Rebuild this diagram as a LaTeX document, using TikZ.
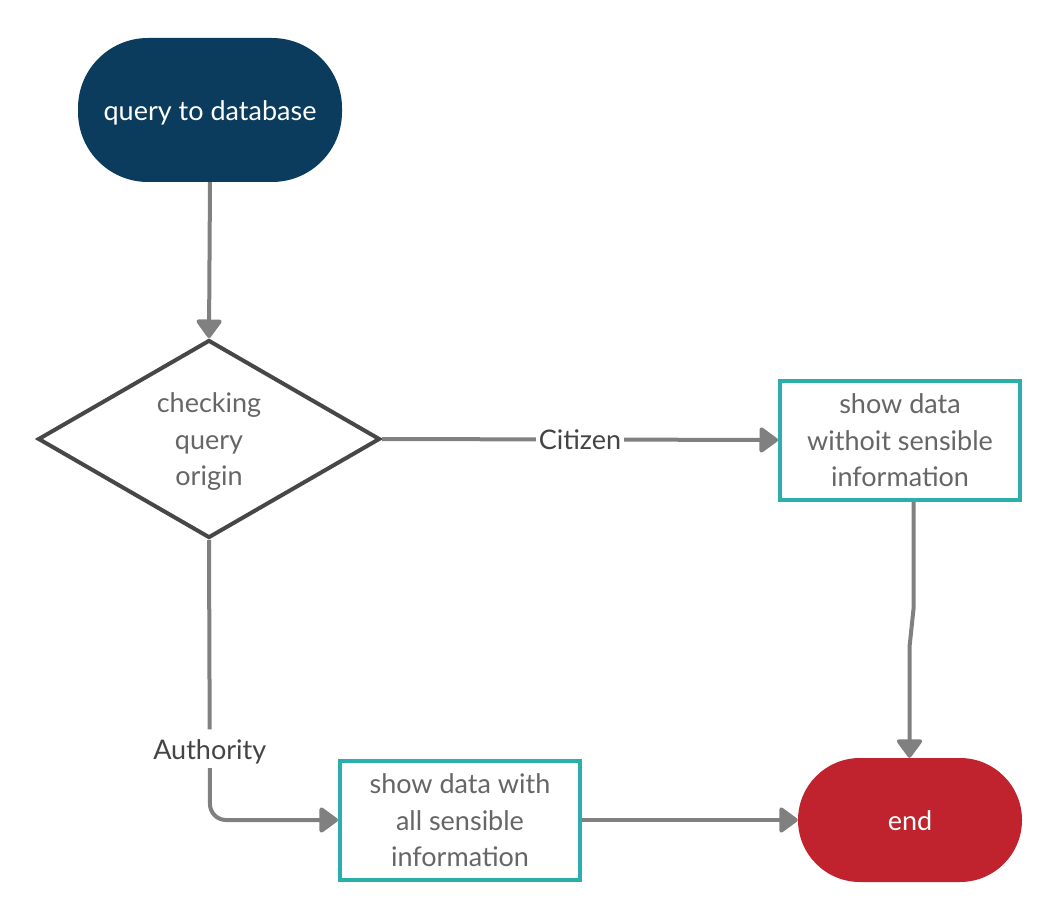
\documentclass[tikz,border=0pt]{standalone}
\usepackage{fontspec}
\setmainfont{Lato}
\usetikzlibrary{arrows.meta,shapes.geometric}
\definecolor{startblue}{HTML}{0B3C5D}
\definecolor{endred}{HTML}{C1232E}
\definecolor{teal2}{HTML}{2AAFAA}
\definecolor{conn}{HTML}{808080}
\definecolor{dstroke}{HTML}{474747}
\definecolor{txtgray}{HTML}{666666}
\definecolor{lblgray}{HTML}{444444}
\newcommand{\strt}{\rule[-0.213em]{0pt}{1.2em}}
\tikzset{
  basefont/.style={font=\fontsize{27}{36.5}\selectfont},
  pill/.style={basefont, draw=none, text=white, align=center, inner sep=0pt},
  procbox/.style={basefont, draw=teal2, line width=4pt, fill=white, text=txtgray, align=center,
    minimum width=240pt, minimum height=119pt, inner sep=0pt},
  decision/.style={basefont, diamond, draw=dstroke, line width=4pt, text=txtgray, align=center,
    shape aspect=1.727, minimum width=342pt, minimum height=198pt, inner sep=0pt},
  conn/.style={draw=conn, line width=4pt, -{Triangle[length=20pt,width=28pt,round]}},
  lbl/.style={basefont, fill=white, text=lblgray, inner sep=3pt},
}
\begin{document}
\begin{tikzpicture}[x=1pt,y=-1pt]
\useasboundingbox (0,0) rectangle (1060,920);
\node[pill, fill=startblue, minimum width=264pt, minimum height=144pt, rounded corners=70pt] (start) at (210,110) {\strt query to database};
\node[decision] (check) at (209,439) {\strt checking\\\strt query\\\strt origin};
\node[procbox] (nosens) at (900,440) {\strt show data\\\strt withoit sensible\\\strt information};
\node[procbox] (allsens) at (460,820) {\strt show data with\\\strt all sensible\\\strt information};
\node[pill, fill=endred, minimum width=224pt, minimum height=124pt, rounded corners=62pt] (end) at (910,820) {\strt end};
\coordinate (k1) at (913.5,609);
\coordinate (k2) at (909.5,647);
\coordinate (bend) at (210,820);

\draw[conn] (start.south) -- (check.north);
\draw[conn] (check.east) -- node[lbl] (citizen) {\strt Citizen} (nosens.west);
\draw[conn] (nosens.south -| k1) -- (k1) -- (k2) -- (end.north -| k2);
\draw[conn, rounded corners=16pt] (check.south) -- node[lbl, pos=0.745] (authority) {\strt Authority} (bend) -- (allsens.west);
\draw[conn] (allsens.east) -- (end.west);
\end{tikzpicture}
\end{document}
